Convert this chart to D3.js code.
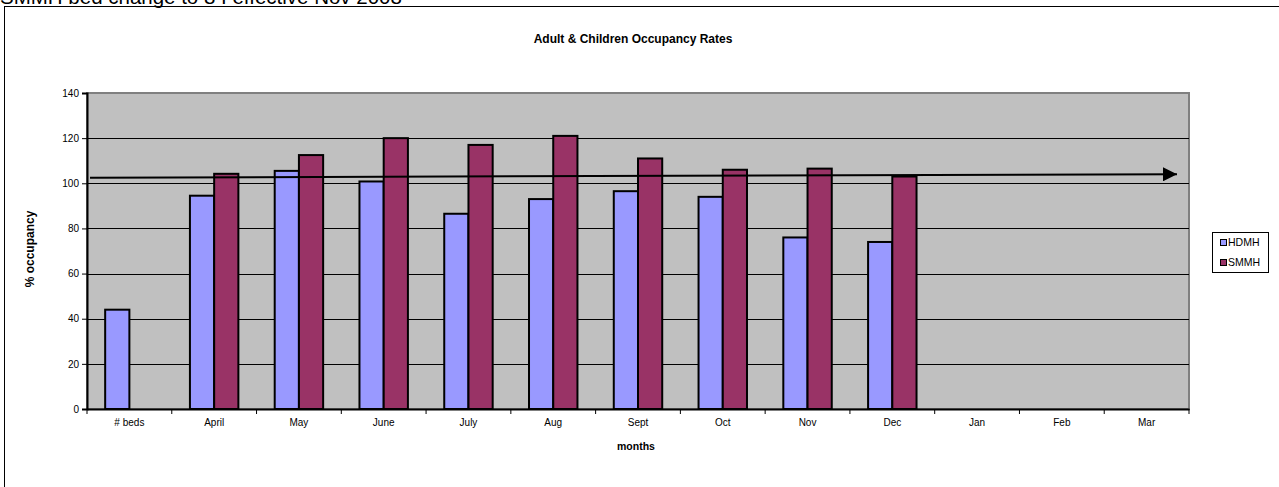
<!DOCTYPE html>
<html lang="en">
<head>
<meta charset="utf-8">
<title>Adult & Children Occupancy Rates</title>
<script src="https://cdn.jsdelivr.net/npm/d3@7"></script>
<style>
  body { margin: 0; background: #fff; }
  text { font-family: "Liberation Sans", Arial, sans-serif; }
</style>
</head>
<body>
<script>
// chart data
let months = ["# beds", "April", "May", "June", "July", "Aug", "Sept", "Oct", "Nov", "Dec", "Jan", "Feb", "Mar"]
let hdmh = [44, 94.5, 105.5, 100.8, 86.5, 93, 96.5, 94, 76, 74, null, null, null]
let smmh = [null, 104.2, 112.5, 120, 117, 121, 111, 106, 106.5, 103, null, null, null]
let yTicks = [0, 20, 40, 60, 80, 100, 120, 140]
let seriesNames = ["HDMH", "SMMH"]
let seriesColors = ["#9999FF", "#993366"]
// trend arrow drawn on the chart (start / end values)
let trendLine = [102.5, 104]

let w = 1279, h = 487
let pLeft = 87, pRight = 1189, pTop = 93, pBottom = 409

let svg = d3.select("body").append("svg")
  .attr("width", w)
  .attr("height", h)

// note text, clipped at the top edge as in the source
svg.append("text")
  .attr("x", 0)
  .attr("y", 4)
  .attr("font-size", 20.5)
  .text("SMMH bed change to 8 I effective Nov 2008")

// outer chart frame
svg.append("rect")
  .attr("x", 4.5).attr("y", 6.5)
  .attr("width", 1290).attr("height", 500)
  .attr("fill", "none")
  .attr("stroke", "#000")

let x = d3.scaleBand().domain(months).range([pLeft, pRight])
let bw = x.bandwidth() / 3.5
let y = d3.scaleLinear().domain([0, 140]).range([pBottom, pTop])

// plot area
svg.append("rect")
  .attr("x", pLeft).attr("y", pTop)
  .attr("width", pRight - pLeft).attr("height", pBottom - pTop)
  .attr("fill", "#C0C0C0")
  .attr("stroke", "#808080")
  .attr("stroke-width", 2)

// gridlines
svg.append("g")
  .selectAll("line")
  .data(yTicks.filter(d => d > 0 && d < 140))
  .enter().append("line")
  .attr("x1", pLeft).attr("x2", pRight)
  .attr("y1", d => Math.round(y(d)) + 0.5)
  .attr("y2", d => Math.round(y(d)) + 0.5)
  .attr("stroke", "#000")

// bars
let series = [hdmh, smmh]
series.forEach(function(vals, s) {
  svg.append("g")
    .selectAll("rect")
    .data(months.map((m, i) => ({ m: m, v: vals[i] })).filter(d => d.v != null))
    .enter().append("rect")
    .attr("x", d => x(d.m) + bw * 0.75 + s * bw)
    .attr("y", d => y(d.v))
    .attr("width", bw)
    .attr("height", d => pBottom - y(d.v))
    .attr("fill", seriesColors[s])
    .attr("stroke", "#000")
    .attr("stroke-width", 2)
})

// axes
let xAxis = d3.axisBottom(x).tickSize(0).tickPadding(10)
let gx = svg.append("g")
  .attr("transform", "translate(0," + pBottom + ")")
  .call(xAxis)
gx.select(".domain").attr("stroke", "#000").attr("stroke-width", 2)
gx.selectAll("text").attr("font-size", 10).attr("fill", "#000")
gx.selectAll(".bound")
  .data(months.map(m => x(m)).concat([pRight]))
  .enter().append("line")
  .attr("x1", d => d).attr("x2", d => d)
  .attr("y1", 0).attr("y2", 5)
  .attr("stroke", "#000")

let yAxis = d3.axisLeft(y).tickValues(yTicks).tickSize(5).tickPadding(3)
let gy = svg.append("g")
  .attr("transform", "translate(" + pLeft + ",0)")
  .call(yAxis)
gy.select(".domain").attr("stroke", "#000").attr("stroke-width", 2)
gy.selectAll("text").attr("font-size", 10).attr("fill", "#000")

// trend arrow
svg.append("defs").append("marker")
  .attr("id", "arrow")
  .attr("viewBox", "0 0 10 10")
  .attr("refX", 10).attr("refY", 5)
  .attr("markerWidth", 7).attr("markerHeight", 7)
  .attr("markerUnits", "strokeWidth")
  .attr("orient", "auto")
  .append("path")
  .attr("d", "M0,0 L10,5 L0,10 z")
  .attr("fill", "#000")

svg.append("line")
  .attr("x1", pLeft + 3).attr("y1", y(trendLine[0]))
  .attr("x2", pRight - 12).attr("y2", y(trendLine[1]))
  .attr("stroke", "#000")
  .attr("stroke-width", 2)
  .attr("marker-end", "url(#arrow)")

// titles
svg.append("text")
  .attr("x", 633).attr("y", 43)
  .attr("text-anchor", "middle")
  .attr("font-size", 12).attr("font-weight", "bold")
  .text("Adult & Children Occupancy Rates")

svg.append("text")
  .attr("x", 636).attr("y", 450)
  .attr("text-anchor", "middle")
  .attr("font-size", 10.5).attr("font-weight", "bold")
  .text("months")

svg.append("text")
  .attr("transform", "translate(34,249) rotate(-90)")
  .attr("text-anchor", "middle")
  .attr("font-size", 12).attr("font-weight", "bold")
  .text("% occupancy")

// legend
let lg = svg.append("g").attr("transform", "translate(1212,232)")
lg.append("rect")
  .attr("x", 0.5).attr("y", 0.5)
  .attr("width", 56).attr("height", 40)
  .attr("fill", "#fff").attr("stroke", "#000")
seriesNames.forEach(function(name, i) {
  lg.append("rect")
    .attr("x", 8.5).attr("y", 7.5 + i * 20)
    .attr("width", 6).attr("height", 6)
    .attr("fill", seriesColors[i]).attr("stroke", "#000")
  lg.append("text")
    .attr("x", 16).attr("y", 14 + i * 20)
    .attr("font-size", 10.5)
    .text(name)
})
</script>
</body>
</html>
